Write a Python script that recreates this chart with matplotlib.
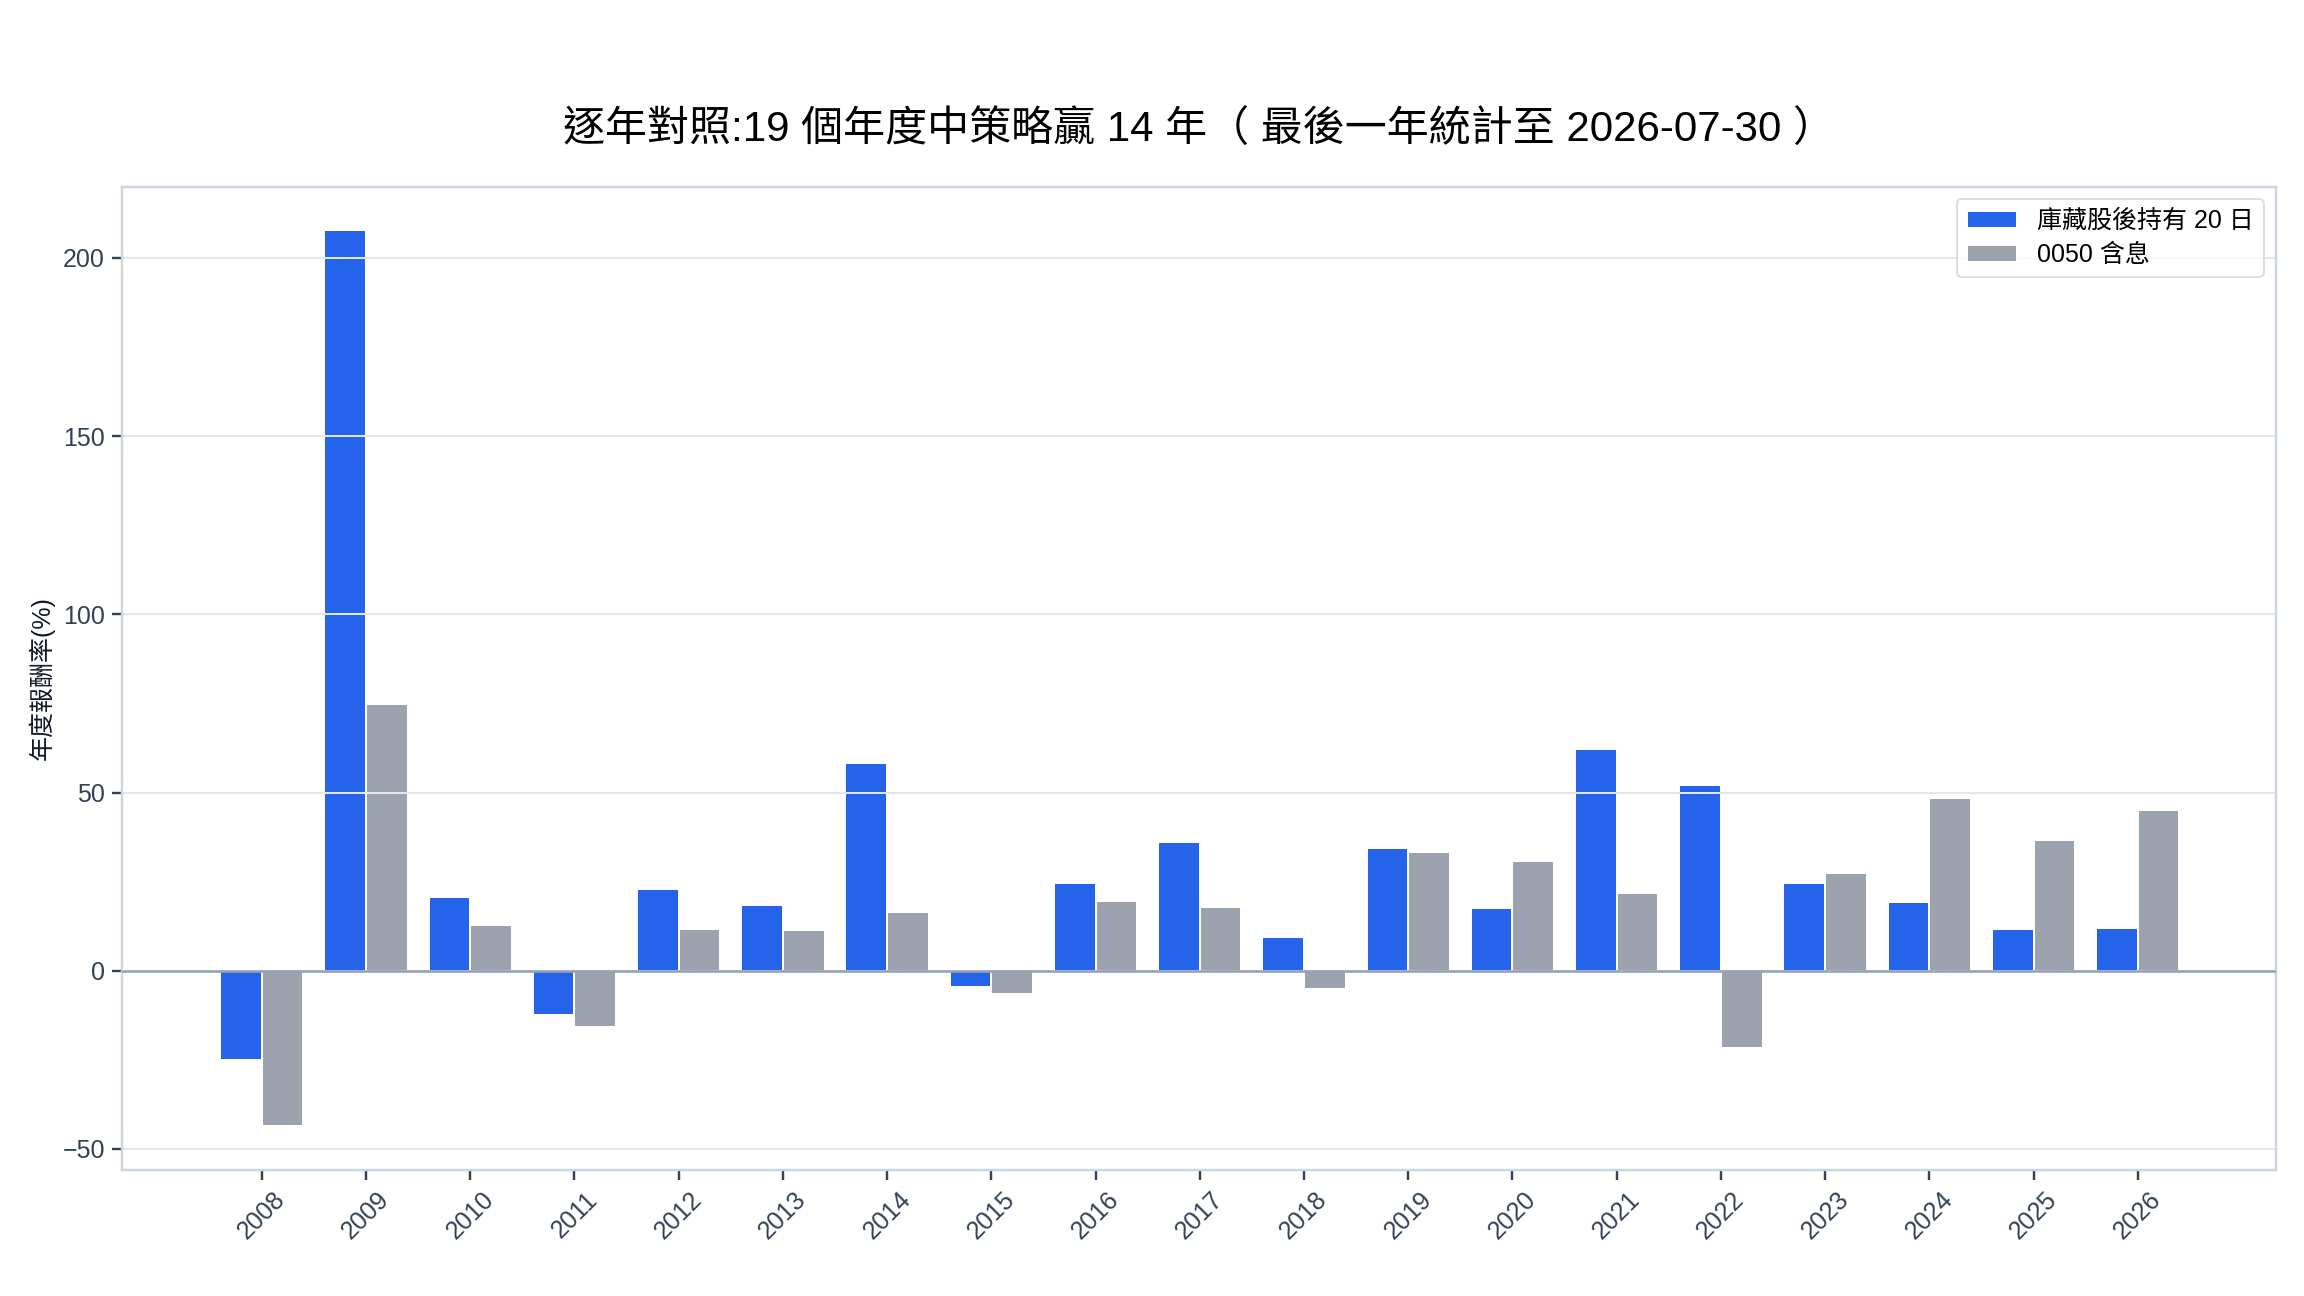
import numpy as np
import matplotlib
matplotlib.use("Agg")
import matplotlib.pyplot as plt

plt.rcParams['font.family'] = ['Liberation Sans', 'Noto Sans CJK TC', 'DejaVu Sans']

# --- data ---
years = [str(y) for y in range(2008, 2027)]
strategy = [-25.1, 207.9, 20.6, -12.4, 22.9, 18.5, 58.3, -4.7, 24.7, 36.2,
            9.5, 34.5, 17.7, 62.2, 52.1, 24.7, 19.3, 11.7, 12.1]
etf_0050 = [-43.5, 74.9, 12.7, -15.9, 11.6, 11.5, 16.5, -6.4, 19.6, 17.9,
            -5.0, 33.4, 30.8, 21.9, -21.6, 27.5, 48.5, 36.7, 45.1]

title = "逐年對照:19 個年度中策略贏 14 年（ 最後一年統計至 2026-07-30 ）"
label_strategy = "庫藏股後持有 20 日"
label_etf = "0050 含息"

blue = "#2563eb"
gray = "#9ca3af"
spine_c = "#cbd5e1"
tick_c = "#334155"

fig = plt.figure(figsize=(16, 9), dpi=144)
ax = fig.add_axes([0.053, 0.097, 0.935, 0.759])

x = np.arange(len(years))
w = 0.4
ax.bar(x - w / 2, strategy, w, color=blue, edgecolor="white", linewidth=1, label=label_strategy)
ax.bar(x + w / 2, etf_0050, w, color=gray, edgecolor="white", linewidth=1, label=label_etf)

ax.axhline(0, color="#94a3b8", linewidth=1.3, zorder=3)

ax.set_xlim(-1.34, len(years) - 1 + 1.33)
ax.set_ylim(-56, 220)
ax.set_yticks([-50, 0, 50, 100, 150, 200])
ax.set_xticks(x)
ax.set_xticklabels(years, rotation=45)
ax.tick_params(colors=tick_c, labelsize=12.5, length=5, width=1.2)

ax.yaxis.grid(True, color="#e5e7eb", linewidth=1)
for s in ax.spines.values():
    s.set_color(spine_c)
    s.set_linewidth(1.2)

ax.set_ylabel("年度報酬率(%)", fontsize=12.5, color="#111827")
# title centred over the axes
fig.text(0.053 + 0.935 / 2, 0.900, title, fontsize=21, ha="center", va="center")

leg = ax.legend(loc="upper right", fontsize=12.5, frameon=True, fancybox=True,
                labelspacing=0.4)
leg.get_frame().set_edgecolor("#d1d5db")

fig.savefig("out.png", dpi=144)
